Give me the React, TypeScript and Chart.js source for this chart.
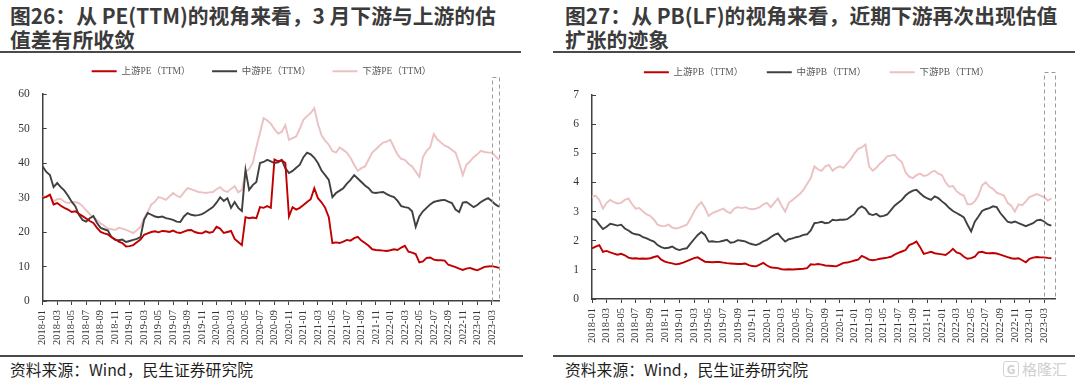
import React, { useEffect, useRef } from 'react';
import { Chart, registerables } from 'chart.js';

Chart.register(...registerables);

// ---------- categories (half-month sampling, 2018-01 .. 2023-04) ----------
const START_YEAR = 2018;
function halfMonthLabels(n: number): string[] {
  const out: string[] = [];
  for (let i = 0; i < n; i++) {
    const m = Math.floor(i / 2);
    const y = START_YEAR + Math.floor(m / 12);
    const mm = String((m % 12) + 1).padStart(2, '0');
    out.push(`${y}-${mm}-${i % 2 ? '16' : '01'}`);
  }
  return out;
}
const peDates = halfMonthLabels(127);
const pbDates = halfMonthLabels(128);
const highlightFrom = '2023-03-01';

// ---------- legends ----------
const peNames = ['上游PE（TTM）', '中游PE（TTM）', '下游PE（TTM）'];
const pbNames = ['上游PB（TTM）', '中游PB（TTM）', '下游PB（TTM）'];

// ---------- y axes ----------
const peYMax = 60;
const peYStep = 10;
const peBoxTop = 65;
const pbYMax = 7;
const pbYStep = 1;
const pbBoxTop = 7.8;

// ---------- series: PE(TTM) ----------
const upPE = [
  29.9, 30.2, 30.8, 28.0, 28.4, 27.6, 27.0, 26.5, 25.8, 26.0,
  25.3, 24.6, 23.9, 23.2, 22.6, 21.2, 20.0, 19.6, 19.3, 18.5,
  17.9, 17.2, 16.8, 15.8, 15.9, 16.2, 17.0, 17.8, 19.2, 19.6,
  20.0, 20.2, 19.9, 20.3, 20.2, 20.0, 20.4, 19.9, 19.7, 20.1,
  20.5, 20.6, 20.0, 19.7, 19.6, 20.2, 19.8, 20.0, 21.5, 21.0,
  19.7, 20.0, 20.3, 18.0, 17.1, 16.2, 24.3, 24.0, 24.2, 24.0,
  27.2, 27.0, 27.5, 27.0, 41.0, 40.5, 40.8, 40.0, 24.5, 27.2,
  26.5, 27.0, 27.8, 28.7, 29.5, 32.7, 29.8, 28.6, 27.0, 24.3,
  16.8, 17.0, 16.8, 17.2, 17.7, 17.5, 18.2, 18.6, 17.5, 16.8,
  16.0, 15.0, 14.8, 14.7, 14.6, 14.5, 14.7, 15.0, 14.8, 15.5,
  16.0, 14.3, 14.0, 13.6, 11.2, 11.5, 12.5, 12.6, 12.0, 11.8,
  11.8, 11.7, 10.5, 10.2, 9.8, 9.4, 9.0, 9.4, 9.6, 9.2,
  8.9, 9.4, 9.9, 10.0, 10.1, 9.9, 9.6,
];
const midPE = [
  39.0, 37.4, 36.5, 33.0, 34.2, 33.0, 32.0, 30.5, 28.8, 27.5,
  25.0, 23.5, 23.0, 24.0, 24.6, 22.6, 21.2, 20.8, 20.4, 18.5,
  17.7, 17.6, 17.8, 17.1, 17.4, 17.7, 18.0, 18.5, 23.5, 25.5,
  25.0, 24.5, 24.3, 24.5, 24.0, 23.8, 23.5, 23.0, 22.9, 24.5,
  25.5, 25.0, 24.8, 24.9, 25.2, 25.8, 26.5, 27.2, 28.5, 30.1,
  29.0, 29.8, 27.0, 28.7, 27.0, 26.1, 38.0, 32.2, 33.6, 34.5,
  40.0, 40.3, 40.9, 40.5, 40.0, 40.2, 40.9, 38.5, 37.1, 37.7,
  38.6, 39.5, 41.7, 43.0, 42.5, 41.5, 40.0, 37.8, 36.5, 35.1,
  30.1, 31.3, 32.0, 32.7, 34.0, 35.1, 36.5, 35.5, 34.5, 33.5,
  32.7, 31.5, 31.3, 31.5, 31.6, 31.0, 30.5, 30.1, 29.0, 27.5,
  27.2, 27.0, 26.0, 21.5, 24.5, 26.0, 27.0, 28.0, 28.7, 29.0,
  29.2, 29.3, 28.8, 28.4, 26.5, 25.8, 28.5, 28.7, 28.0, 27.2,
  27.8, 28.7, 29.3, 29.8, 29.0, 28.0, 27.3,
];
const downPE = [
  30.1, 30.4, 30.7, 28.8, 29.5, 29.6, 28.8, 28.4, 28.6, 28.7,
  28.4, 27.5, 26.3, 25.2, 24.3, 23.4, 22.5, 21.8, 21.0, 20.8,
  20.6, 21.2, 21.0, 20.6, 20.2, 19.7, 20.5, 21.5, 24.0, 25.8,
  28.0, 28.8, 30.1, 29.8, 29.3, 30.3, 31.3, 30.5, 30.1, 31.5,
  32.7, 32.4, 32.0, 31.6, 31.5, 31.3, 31.5, 31.6, 32.4, 33.0,
  32.0, 31.6, 32.5, 33.3, 31.5, 32.2, 37.4, 38.2, 40.0, 44.6,
  48.7, 53.0, 52.3, 51.4, 49.8, 48.5, 49.0, 51.0, 46.7, 47.2,
  47.7, 50.0, 52.5, 53.6, 54.5, 55.9, 51.3, 48.0, 46.5, 45.3,
  43.5, 43.0, 44.5, 43.8, 43.0, 41.5, 39.5, 37.7, 38.5, 39.0,
  41.0, 43.0, 44.0, 45.0, 45.9, 46.2, 46.7, 44.5, 42.4, 41.2,
  40.9, 39.8, 39.0, 37.5, 36.0, 41.7, 43.5, 44.6, 48.4, 46.8,
  45.9, 45.0, 44.6, 43.8, 43.0, 40.0, 36.5, 39.5, 40.5, 41.7,
  42.5, 43.5, 43.2, 43.0, 43.0, 42.0, 40.9,
];

// ---------- series: PB(LF) ----------
const upPB = [
  1.74, 1.80, 1.85, 1.62, 1.65, 1.60, 1.56, 1.52, 1.55, 1.50,
  1.42, 1.39, 1.40, 1.38, 1.39, 1.38, 1.40, 1.44, 1.47, 1.35,
  1.28, 1.25, 1.22, 1.19, 1.21, 1.25, 1.30, 1.35, 1.40, 1.43,
  1.35, 1.28, 1.27, 1.26, 1.27, 1.27, 1.25, 1.23, 1.22, 1.21,
  1.20, 1.20, 1.22, 1.16, 1.13, 1.12, 1.18, 1.24, 1.15, 1.09,
  1.07, 1.06, 1.02, 1.01, 1.02, 1.01, 1.02, 1.03, 1.04, 1.06,
  1.19, 1.18, 1.20, 1.18, 1.15, 1.14, 1.13, 1.12, 1.18, 1.24,
  1.25, 1.28, 1.32, 1.35, 1.48, 1.42, 1.35, 1.33, 1.35, 1.38,
  1.40, 1.42, 1.45, 1.52, 1.58, 1.63, 1.68, 1.85, 1.90, 1.97,
  1.78, 1.55, 1.58, 1.62, 1.57, 1.55, 1.53, 1.51, 1.60, 1.72,
  1.60, 1.56, 1.45, 1.38, 1.40, 1.45, 1.60, 1.62, 1.58, 1.57,
  1.58, 1.56, 1.52, 1.48, 1.44, 1.40, 1.38, 1.40, 1.33, 1.26,
  1.38, 1.42, 1.44, 1.43, 1.43, 1.41, 1.40,
];
const midPB = [
  2.75, 2.72, 2.55, 2.40, 2.48, 2.58, 2.55, 2.52, 2.55, 2.42,
  2.35, 2.26, 2.22, 2.20, 2.12, 2.08, 2.02, 1.97, 1.85, 1.78,
  1.74, 1.76, 1.80, 1.72, 1.68, 1.72, 1.74, 1.90, 2.05, 2.20,
  2.30, 2.20, 1.97, 1.98, 1.96, 1.97, 2.00, 2.03, 1.93, 1.95,
  2.02, 2.00, 1.98, 1.92, 1.88, 1.85, 1.90, 1.98, 2.03, 2.12,
  2.20, 2.25, 2.10, 1.97, 2.05, 2.08, 2.12, 2.15, 2.20, 2.22,
  2.35, 2.60, 2.62, 2.65, 2.60, 2.62, 2.72, 2.70, 2.72, 2.72,
  2.74, 2.83, 2.92, 3.10, 3.18, 3.10, 2.92, 2.88, 2.92, 2.83,
  2.85, 2.90, 3.05, 3.20, 3.30, 3.40, 3.55, 3.65, 3.72, 3.75,
  3.63, 3.52, 3.45, 3.40, 3.52, 3.46, 3.35, 3.25, 3.12, 3.02,
  2.95, 2.88, 2.80, 2.55, 2.32, 2.65, 2.83, 3.02, 3.08, 3.12,
  3.18, 3.15, 2.95, 2.80, 2.65, 2.62, 2.66, 2.60, 2.55, 2.50,
  2.55, 2.60, 2.70, 2.72, 2.66, 2.56, 2.52,
];
const downPB = [
  3.50, 3.55, 3.40, 3.10, 3.30, 3.40, 3.32, 3.28, 3.30, 3.40,
  3.45, 3.25, 3.10, 3.12, 3.00, 2.90, 2.85, 2.72, 2.55, 2.50,
  2.50, 2.55, 2.45, 2.42, 2.45, 2.50, 2.55, 2.75, 3.00, 3.20,
  3.32, 3.12, 2.85, 2.95, 3.00, 3.05, 3.10, 3.00, 2.95, 3.10,
  3.15, 3.12, 3.15, 3.10, 3.08, 3.10, 3.15, 3.25, 3.30, 3.15,
  3.30, 3.45, 3.20, 3.00, 3.30, 3.40, 3.50, 3.60, 3.75, 3.95,
  4.15, 4.55, 4.45, 4.40, 4.55, 4.60, 4.40, 4.50, 4.55, 4.50,
  4.65, 4.80, 5.00, 5.15, 5.20, 5.30, 4.55, 4.40, 4.50, 4.65,
  4.75, 4.90, 4.92, 4.95, 4.80, 4.70, 4.35, 4.20, 4.15, 4.25,
  4.30, 4.22, 4.25, 4.35, 4.40, 4.30, 4.25, 4.00, 3.85, 3.88,
  3.70, 3.60, 3.55, 3.25, 3.25, 3.35, 3.55, 3.90, 4.00, 3.85,
  3.78, 3.65, 3.60, 3.55, 3.30, 3.20, 3.00, 3.25, 3.22, 3.35,
  3.50, 3.55, 3.60, 3.55, 3.50, 3.38, 3.45,
];

// ---------- styles ----------
const COLORS = ['#C00000', '#404040', '#EBC1C1'];
const AXIS_COLOR = '#404040';
const SERIF = 'Liberation Serif, Times New Roman, Times, serif';
const LEGEND_FONT = 'Liberation Serif, Noto Sans CJK SC, serif';
const CJK = '"Noto Sans CJK SC", "Noto Sans", sans-serif';

type PanelProps = {
  left: number; top: number; width: number; height: number;
  labels: string[]; series: number[][]; names: string[];
  yMax: number; yStep: number; boxTop: number;
  yAxisWidth: number; xAxisHeight: number; legendHeight: number;
  legendPadding: number; legendShift: number; padRight: number;
};

function ChartPanel(p: PanelProps) {
  const ref = useRef<HTMLCanvasElement | null>(null);
  useEffect(() => {
    const canvas = ref.current;
    if (!canvas) return;
    const legendPlugin = {
      id: 'legendTweak',
      beforeInit(chart: any) {
        const legend = chart.legend;
        if (!legend) return;
        const orig = legend.fit;
        legend.fit = function () {
          orig.call(this);
          this.height = p.legendHeight;
        };
      },
      afterLayout(chart: any) {
        const legend = chart.legend;
        if (!legend) return;
        legend.left += p.legendShift;
        legend.right += p.legendShift;
      },
    };
    const boxPlugin = {
      id: 'highlightBox',
      afterDatasetsDraw(chart: any) {
        const { ctx, scales } = chart;
        const xs = scales.x;
        const ys = scales.y;
        const x1 = xs.getPixelForValue(p.labels.indexOf(highlightFrom));
        const x2 = xs.getPixelForValue(p.labels.length - 1);
        const yTop = ys.getPixelForValue(p.boxTop);
        const yBot = ys.getPixelForValue(0);
        ctx.save();
        ctx.setLineDash([4, 3]);
        ctx.strokeStyle = '#9a9a9a';
        ctx.lineWidth = 1;
        ctx.strokeRect(Math.round(x1) + 0.5, Math.round(yTop) + 0.5, Math.round(x2 - x1), Math.round(yBot - yTop));
        ctx.restore();
      },
    };
    const chart = new Chart(canvas, {
      type: 'line',
      data: {
        labels: p.labels,
        datasets: p.series.map((d, k) => ({
          label: p.names[k],
          data: d,
          borderColor: COLORS[k],
          backgroundColor: COLORS[k],
          pointBorderColor: COLORS[k],
          pointBackgroundColor: COLORS[k],
          pointBorderWidth: 2,
          borderWidth: 1.9,
          pointRadius: 0,
          tension: 0,
          fill: false,
        })),
      },
      options: {
        responsive: false,
        animation: false,
        events: [],
        layout: { padding: { left: 0, right: p.padRight, top: 0, bottom: 0 } },
        plugins: {
          legend: {
            display: true,
            position: 'top',
            align: 'center',
            labels: {
              usePointStyle: true,
              pointStyle: 'line',
              pointStyleWidth: 25,
              boxHeight: 10,
              padding: p.legendPadding,
              color: '#595959',
              font: { family: LEGEND_FONT, size: 9.5 },
            },
          },
          tooltip: { enabled: false },
        },
        scales: {
          x: {
            type: 'category',
            offset: false,
            afterBuildTicks: (axis: any) => {
              axis.ticks = axis.ticks.filter((t: any) => t.value % 4 === 0);
            },
            afterFit: (s: any) => { s.height = p.xAxisHeight; },
            ticks: {
              autoSkip: false,
              minRotation: 90,
              maxRotation: 90,
              padding: 5,
              color: '#333333',
              font: { family: SERIF, size: 10.5 },
              callback: function (this: any, v: any) {
                return String(this.getLabelForValue(v)).slice(0, 7);
              },
            },
            grid: { drawOnChartArea: false, drawTicks: true, tickLength: 4, color: AXIS_COLOR, lineWidth: 1 },
            border: { display: true, color: AXIS_COLOR, width: 1.5 },
          },
          y: {
            min: 0,
            max: p.yMax,
            afterFit: (s: any) => { s.width = p.yAxisWidth; },
            ticks: {
              stepSize: p.yStep,
              padding: 17,
              color: '#333333',
              font: { family: SERIF, size: 11.5 },
            },
            grid: { drawOnChartArea: false, drawTicks: true, tickLength: -4, color: AXIS_COLOR, lineWidth: 1 },
            border: { display: true, color: AXIS_COLOR, width: 1.5 },
          },
        },
      } as any,
      plugins: [legendPlugin, boxPlugin],
    });
    return () => chart.destroy();
  }, []);
  return (
    <canvas
      ref={ref}
      width={p.width}
      height={p.height}
      style={{ position: 'absolute', left: p.left, top: p.top, width: p.width, height: p.height }}
    />
  );
}

const titleStyle: React.CSSProperties = {
  position: 'absolute',
  top: 3,
  fontFamily: CJK,
  fontSize: 20.8,
  lineHeight: '24px',
  fontWeight: 700,
  color: '#3b3b3b',
  whiteSpace: 'nowrap',
};
const ruleStyle: React.CSSProperties = { position: 'absolute', height: 2, background: '#4a4a4a' };
const sourceStyle: React.CSSProperties = {
  position: 'absolute',
  top: 359,
  fontFamily: CJK,
  fontSize: 15.8,
  lineHeight: '22px',
  color: '#1f1f1f',
  whiteSpace: 'nowrap',
};

export default function App() {
  return (
    <div style={{ position: 'absolute', left: 0, top: 0, width: 1080, height: 383, background: '#fff', overflow: 'hidden' }}>
      <div style={{ ...titleStyle, left: 10 }}>
        图26：从 PE(TTM)的视角来看，3 月下游与上游的估<br />值差有所收敛
      </div>
      <div style={{ ...titleStyle, left: 565 }}>
        图27：从 PB(LF)的视角来看，近期下游再次出现估值<br />扩张的迹象
      </div>
      <div style={{ ...ruleStyle, left: 0, top: 51, width: 521 }} />
      <div style={{ ...ruleStyle, left: 553, top: 51, width: 522 }} />

      <ChartPanel
        left={0} top={45} width={530} height={310}
        labels={peDates} series={[upPE, midPE, downPE]} names={peNames}
        yMax={peYMax} yStep={peYStep} boxTop={peBoxTop}
        yAxisWidth={42.7} xAxisHeight={54} legendHeight={49}
        legendPadding={21.5} legendShift={12} padRight={31}
      />
      <ChartPanel
        left={566} top={44} width={504} height={311}
        labels={pbDates} series={[upPB, midPB, downPB]} names={pbNames}
        yMax={pbYMax} yStep={pbYStep} boxTop={pbBoxTop}
        yAxisWidth={26} xAxisHeight={56} legendHeight={51}
        legendPadding={23.5} legendShift={6} padRight={15}
      />

      <div style={{ ...ruleStyle, left: 0, top: 355, width: 523 }} />
      <div style={{ ...ruleStyle, left: 553, top: 355, width: 522 }} />
      <div style={{ ...sourceStyle, left: 10 }}>资料来源：Wind，民生证券研究院</div>
      <div style={{ ...sourceStyle, left: 565 }}>资料来源：Wind，民生证券研究院</div>
      <div style={{ position: 'absolute', left: 1003, top: 360, display: 'flex', alignItems: 'center', gap: 3, color: '#cfcfcf', fontFamily: CJK, fontSize: 15, lineHeight: '18px' }}>
        <span style={{ border: '1.5px solid #d4d4d4', borderRadius: 3, width: 14, height: 14, lineHeight: '14px', textAlign: 'center', fontSize: 12, fontWeight: 700 }}>G</span>
        <span>格隆汇</span>
      </div>
    </div>
  );
}
